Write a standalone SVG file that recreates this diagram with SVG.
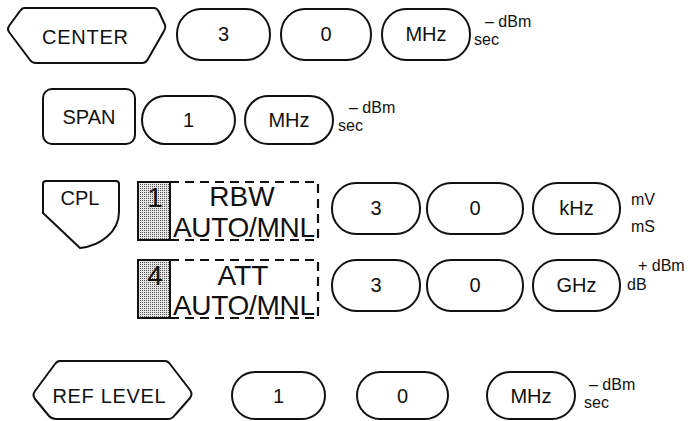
<svg xmlns="http://www.w3.org/2000/svg" width="696" height="421" viewBox="0 0 696 421">
<defs>
<pattern id="stip" width="2" height="2" patternUnits="userSpaceOnUse">
<rect width="2" height="2" fill="#e6e6e6"/>
<rect width="1" height="1" fill="#555"/>
</pattern>
</defs>
<style>
.k{fill:#fff;stroke:#111;stroke-width:2;stroke-linejoin:round}
.t{font-family:"Liberation Sans",Arial,sans-serif;font-size:20px;fill:#111;text-anchor:middle}
.b{font-family:"Liberation Sans",Arial,sans-serif;font-size:28px;fill:#111;text-anchor:middle}
.s{font-family:"Liberation Sans",Arial,sans-serif;font-size:16px;fill:#111}
.d{fill:none;stroke:#111;stroke-width:2.2;stroke-dasharray:9 6}
.sh{fill:url(#stip);stroke:#111;stroke-width:2}
</style>
<rect width="696" height="421" fill="#fff"/>
<g id="connectors"/>

<g id="center">
<path class="k" d="M24,8 L154,8 Q157,8 159,12 L165,25 Q166,28 164,31 L148,59 Q146,63 142,63 L36,63 Q32,63 30,60 L9,32 Q7,29 9,26 L20,11 Q22,8 24,8 Z"/>
<text class="t" x="85" y="44" textLength="86">CENTER</text>
</g>
<g id="k1-3"><rect class="k" x="177" y="9" width="93" height="51" rx="24" ry="25"/><text class="t" x="223.5" y="41">3</text></g>
<g id="k1-0"><rect class="k" x="281" y="9" width="90" height="51" rx="24" ry="25"/><text class="t" x="326" y="41">0</text></g>
<g id="k1-mhz"><rect class="k" x="382" y="9" width="88" height="51" rx="24" ry="25"/><text class="t" x="426" y="41">MHz</text></g>
<g id="l1"><text class="s" x="485" y="27">– dBm</text><text class="s" x="474" y="45">sec</text></g>

<g id="span">
<rect class="k" x="43" y="89" width="92" height="55" rx="9"/>
<text class="t" x="89" y="124">SPAN</text>
</g>
<g id="k2-1"><rect class="k" x="142" y="96" width="93" height="48" rx="23" ry="24"/><text class="t" x="188.5" y="127">1</text></g>
<g id="k2-mhz"><rect class="k" x="245" y="96" width="88" height="48" rx="23" ry="24"/><text class="t" x="289" y="127">MHz</text></g>
<g id="l2"><text class="s" x="349" y="113">– dBm</text><text class="s" x="338" y="131">sec</text></g>

<g id="cpl">
<path class="k" d="M46,181 L116,181 Q119,181 119,184 L119,212 C119,232 100,246 80,248 L43,213 L43,184 Q43,181 46,181 Z"/>
<text class="t" x="80" y="205">CPL</text>
</g>

<g id="rbw">
<rect class="sh" x="138" y="182" width="32" height="58"/>
<text class="b" x="155" y="207" font-size="26">1</text>
<path class="d" d="M170,182 H318 V240 H170"/>
<text class="b" x="242" y="206">RBW</text>
<text class="b" x="244" y="237" textLength="142">AUTO/MNL</text>
</g>
<g id="k3-3"><rect class="k" x="332" y="183" width="88" height="51" rx="24" ry="25"/><text class="t" x="376" y="215">3</text></g>
<g id="k3-0"><rect class="k" x="427" y="183" width="96" height="51" rx="24" ry="25"/><text class="t" x="475" y="215">0</text></g>
<g id="k3-khz"><rect class="k" x="533" y="183" width="87" height="51" rx="24" ry="25"/><text class="t" x="576.5" y="215">kHz</text></g>
<g id="l3"><text class="s" x="631" y="205">mV</text><text class="s" x="631" y="232">mS</text></g>

<g id="att">
<rect class="sh" x="138" y="260" width="32" height="58"/>
<text class="b" x="155" y="285" font-size="26">4</text>
<path class="d" d="M170,260 H318 V318 H170"/>
<text class="b" x="243" y="285" font-size="27">ATT</text>
<text class="b" x="244" y="315" textLength="142">AUTO/MNL</text>
</g>
<g id="k4-3"><rect class="k" x="332" y="260" width="88" height="51" rx="24" ry="25"/><text class="t" x="376" y="292">3</text></g>
<g id="k4-0"><rect class="k" x="427" y="260" width="96" height="51" rx="24" ry="25"/><text class="t" x="475" y="292">0</text></g>
<g id="k4-ghz"><rect class="k" x="533" y="260" width="87" height="51" rx="24" ry="25"/><text class="t" x="576.5" y="292">GHz</text></g>
<g id="l4"><text class="s" x="638" y="271">+ dBm</text><text class="s" x="627" y="290">dB</text></g>

<g id="reflevel">
<path class="k" d="M60,361 L165,361 Q168,361 170,364 L190,390 Q193,394 190,398 L175,415 Q172,419 168,419 L56,419 Q52,419 49,416 L35,399 Q32,395 35,391 L55,364 Q57,361 60,361 Z"/>
<text class="t" x="109" y="403" textLength="113">REF LEVEL</text>
</g>
<g id="k5-1"><rect class="k" x="232" y="372" width="93" height="47" rx="23" ry="23.5"/><text class="t" x="278.5" y="403">1</text></g>
<g id="k5-0"><rect class="k" x="357" y="372" width="91" height="47" rx="23" ry="23.5"/><text class="t" x="402.5" y="403">0</text></g>
<g id="k5-mhz"><rect class="k" x="487" y="372" width="88" height="47" rx="23" ry="23.5"/><text class="t" x="531" y="403">MHz</text></g>
<g id="l5"><text class="s" x="589" y="390">– dBm</text><text class="s" x="584" y="408">sec</text></g>
</svg>
